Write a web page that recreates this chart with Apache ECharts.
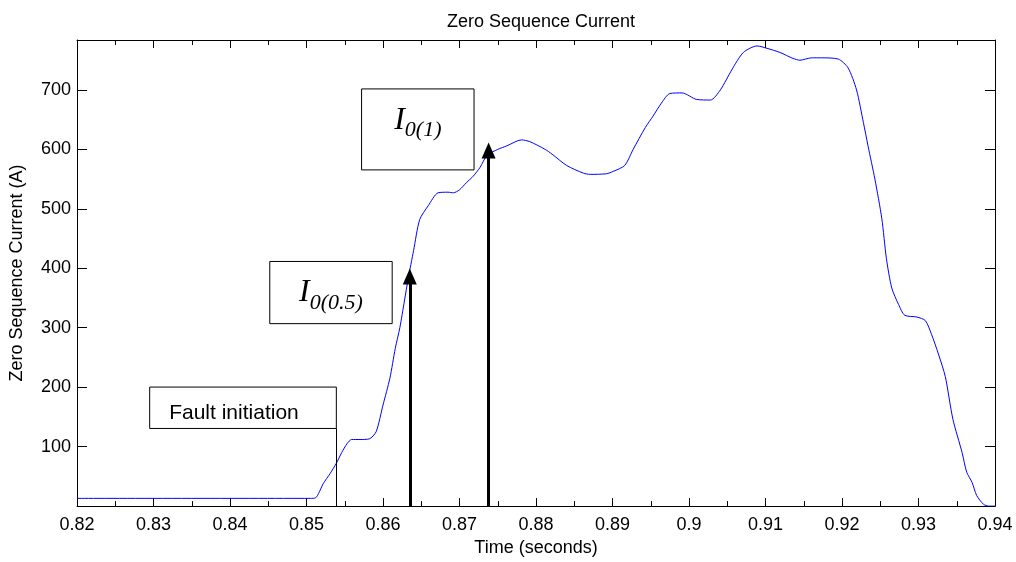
<!DOCTYPE html>
<html><head><meta charset="utf-8">
<script src="https://cdn.jsdelivr.net/npm/echarts@6/dist/echarts.min.js"></script>
<style>html,body{margin:0;padding:0;background:#fff}#c{width:1016px;height:562px}</style>
</head><body><div id="c"></div>
<script>
// ---- data ----
const times = [0.820,0.8505,0.8512,0.8522,0.8531,0.8539,0.8546,0.8553,0.8559,0.8570,0.8582,0.8591,0.8600,0.8609,0.8616,0.8622,0.8628,0.8633,0.8640,0.8648,0.8659,0.8672,0.8685,0.8692,0.8700,0.8709,0.8718,0.8727,0.8736,0.8750,0.8762,0.8781,0.8792,0.8812,0.8821,0.8840,0.8862,0.8871,0.8892,0.8901,0.8916,0.8927,0.8943,0.8953,0.8964,0.8975,0.8991,0.9010,0.9028,0.9041,0.9056,0.9071,0.9089,0.9102,0.9119,0.9136,0.9145,0.9160,0.9173,0.9195,0.9208,0.9219,0.9228,0.9234,0.9243,0.9252,0.9258,0.9265,0.9274,0.9282,0.9298,0.9309,0.9317,0.9326,0.9335,0.9345,0.9357,0.9363,0.9370,0.9376,0.9385,0.9392,0.940];
const current = [13,13,14,38,55,72,90,105,112,112,113,125,170,215,265,300,345,383,430,482,505,527,528,527,532,544,555,570,590,600,606,616,613,600,592,573,560,558,559,563,573,600,637,656,678,694,695,684,683,700,734,763,774,770,763,753,750,754,754,752,737,700,645,606,550,484,417,367,339,321,318,312,289,256,218,146,90,57,40,18,3,0,0];
const xTickLabels = ['0.82','0.83','0.84','0.85','0.86','0.87','0.88','0.89','0.9','0.91','0.92','0.93','0.94'];
const yTickLabels = ['100','200','300','400','500','600','700'];
// annotations
const arrowTimes = [0.8635, 0.8738];
const arrowTips = [386, 598];
const faultTime = 0.8539;
const faultLineTop = 130.6;
const boxTexts = ['Fault initiation', '{i|I}{s|0(0.5)}', '{i|I}{s|0(1)}'];
const boxTimes = [[0.8295, 0.8539], [0.8452, 0.8612], [0.8572, 0.8719]];
const boxValues = [[130.6, 200.2], [306.9, 411.5], [565.5, 701.7]];

const FONT = 'Liberation Sans';
const SERIF = 'Liberation Serif';
const chart = echarts.init(document.getElementById('c'), null, {renderer: 'canvas'});

function xLabel(v) {
  const i = Math.round((v - 0.82) / 0.01);
  if (Math.abs(v - (0.82 + i * 0.01)) > 1e-6) return '';
  return xTickLabels[i] || '';
}
function yLabel(v) {
  const s = String(Math.round(v));
  return yTickLabels.indexOf(s) >= 0 && Math.abs(v - Math.round(v)) < 1e-6 ? s : '';
}

const xCommon = {
  type: 'value', min: 0.82, max: 0.94, interval: 0.01,
  axisLine: {show: true, onZero: false, lineStyle: {color: '#000', width: 1}},
  axisTick: {show: true, inside: true, length: 8, lineStyle: {color: '#000'}},
  minorTick: {show: true, splitNumber: 2, length: 5, lineStyle: {color: '#000'}},
  splitLine: {show: false}
};
const yCommon = {
  type: 'value', min: 0, max: 784, interval: 100,
  axisLine: {show: true, onZero: false, lineStyle: {color: '#000', width: 1}},
  axisTick: {show: true, inside: true, length: 10, lineStyle: {color: '#000'}},
  splitLine: {show: false}
};

const richStyles = {
  i: {fontFamily: SERIF, fontStyle: 'italic', fontSize: 32, lineHeight: 32, verticalAlign: 'bottom', padding: [0, 0, 5, 0], color: '#000'},
  s: {fontFamily: SERIF, fontStyle: 'italic', fontSize: 22, lineHeight: 22, verticalAlign: 'bottom', color: '#000'}
};
const boxData = boxTexts.map((t, k) => [
  {
    coord: [boxTimes[k][0], boxValues[k][1]], name: t,
    label: k === 0
      ? {position: [20, 16], align: 'left', verticalAlign: 'top', fontSize: 21, fontFamily: FONT, color: '#000'}
      : {position: ['50%', 21], align: 'center', verticalAlign: 'top', rich: richStyles}
  },
  {coord: [boxTimes[k][1], boxValues[k][0]]}
]);

const option = {
  animation: false,
  backgroundColor: '#fff',
  title: {
    text: 'Zero Sequence Current', left: 536, top: 8, textAlign: 'center',
    textStyle: {fontFamily: FONT, fontSize: 18, fontWeight: 'normal', color: '#000'}
  },
  grid: {left: 77, right: 21, top: 40, bottom: 52},
  xAxis: [
    Object.assign({}, xCommon, {
      position: 'bottom',
      name: 'Time (seconds)', nameLocation: 'middle', nameGap: 27,
      nameTextStyle: {fontFamily: FONT, fontSize: 18, color: '#000'},
      axisLabel: {show: true, margin: 10, fontFamily: FONT, fontSize: 18, color: '#000', formatter: xLabel, showMinLabel: true, showMaxLabel: true}
    }),
    Object.assign({}, xCommon, {position: 'top', axisLabel: {show: false}})
  ],
  yAxis: [
    Object.assign({}, yCommon, {
      position: 'left',
      name: 'Zero Sequence Current (A)', nameLocation: 'middle', nameGap: 51,
      nameTextStyle: {fontFamily: FONT, fontSize: 18, color: '#000'},
      axisLabel: {show: true, margin: 6, fontFamily: FONT, fontSize: 18, color: '#000', formatter: yLabel}
    }),
    Object.assign({}, yCommon, {position: 'right', axisLabel: {show: false}})
  ],
  series: [{
    type: 'line', xAxisIndex: 0, yAxisIndex: 0,
    data: times.map((t, i) => [t, current[i]]),
    showSymbol: false, symbol: 'none',
    smooth: 0.25,
    lineStyle: {color: '#0000ff', width: 1},
    z: 2,
    markArea: {
      silent: true,
      itemStyle: {color: '#fff', borderColor: '#000', borderWidth: 1},
      label: {
        show: true, color: '#000',
        fontFamily: FONT, fontSize: 21,
        formatter: p => p.name,
        rich: richStyles
      },
      data: boxData
    },
    markLine: {
      silent: true, animation: false,
      label: {show: false},
      emphasis: {disabled: true},
      data: [
        [{coord: [faultTime, 0], symbol: 'none', lineStyle: {color: '#000', width: 1, type: 'solid'}},
         {coord: [faultTime, faultLineTop], symbol: 'none'}]
      ].concat(arrowTimes.map((t, k) => [
        {coord: [t, 0], symbol: 'none', lineStyle: {color: '#000', width: 3, type: 'solid'}},
        {coord: [t, arrowTips[k]], symbol: 'triangle', symbolSize: [14, 16]}
      ]))
    }
  }]
};
chart.setOption(option);
</script>
</body></html>
